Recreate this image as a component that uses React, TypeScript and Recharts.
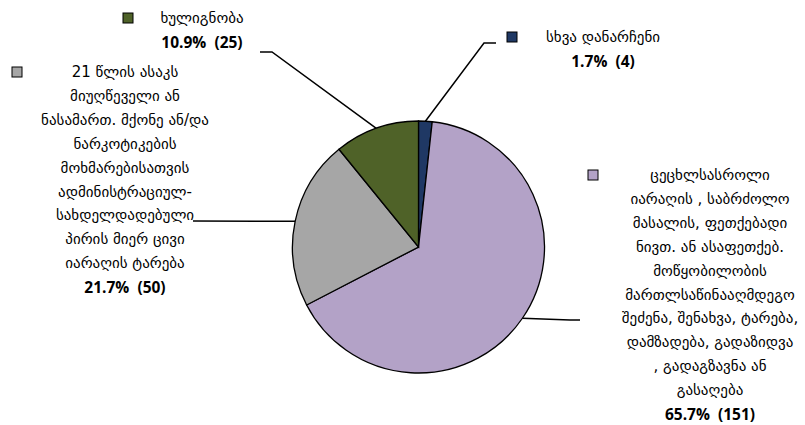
import React from "react";
import { Cell, Pie, PieChart } from "recharts";

// categories in drawing order (clockwise from 12 o'clock)
const categories = [
  "სხვა დანარჩენი",
  "ცეცხლსასროლი\nიარაღის , საბრძოლო\nმასალის, ფეთქებადი\nნივთ. ან ასაფეთქებ.\nმოწყობილობის\nმართლსაწინააღმდეგო\nშეძენა, შენახვა, ტარება,\nდამზადება, გადაზიდვა\n, გადაგზავნა ან\nგასაღება",
  "21 წლის ასაკს\nმიუღწეველი ან\nნასამართ. მქონე ან/და\nნარკოტიკების\nმოხმარებისათვის\nადმინისტრაციულ-\nსახდელდადებული\nპირის მიერ ცივი\nიარაღის ტარება",
  "ხულიგნობა",
];
const counts = [4, 151, 50, 25];
const colors = ["#1F3864", "#B3A2C7", "#A6A6A6", "#4F6228"];

const total = counts.reduce((a, b) => a + b, 0);
const data = categories.map((name, i) => ({ name, value: counts[i] }));

// where each data label sits (text centre x, first line y, legend key x, leader elbow)
const labelLayout = [
  { x: 603, y: 37, keyX: 507, elbow: [484, 43], end: [496, 43] },
  { x: 710, y: 175, keyX: 588, elbow: [570, 320], end: [580, 320] },
  { x: 125, y: 72, keyX: 12, elbow: null, end: [193, 221] },
  { x: 202, y: 18, keyX: 123, elbow: [272, 52], end: [260, 52] },
];

const LINE_H = 23.9;
const RADIAN = Math.PI / 180;

function renderLabel(props: any) {
  const { cx, cy, midAngle, outerRadius, index, value } = props;
  const lay = labelLayout[index];
  const lines = categories[index].split("\n");
  const px = cx + outerRadius * Math.cos(-midAngle * RADIAN);
  const py = cy + outerRadius * Math.sin(-midAngle * RADIAN);
  const pts = [[px, py], ...(lay.elbow ? [lay.elbow] : []), lay.end]
    .map((p) => p.join(","))
    .join(" ");
  const pct = `${((value / total) * 100).toFixed(1)}%\u00a0\u00a0(${value})`;
  return (
    <g key={`lbl-${index}`}>
      <polyline points={pts} fill="none" stroke="#000" strokeWidth={1.5} />
      <rect
        x={lay.keyX}
        y={lay.y - 5}
        width={10}
        height={10}
        fill={colors[index]}
        stroke="#000"
        strokeWidth={1}
      />
      {lines.map((t, k) => (
        <text
          key={k}
          x={lay.x}
          y={lay.y + k * LINE_H}
          textAnchor="middle"
          dominantBaseline="central"
          fontFamily="DejaVu Sans"
          fontSize={15}
          fill="#000"
        >
          {t}
        </text>
      ))}
      <text
        x={lay.x}
        y={lay.y + lines.length * LINE_H}
        textAnchor="middle"
        dominantBaseline="central"
        fontFamily="Open Sans"
        fontWeight="bold"
        fontSize={15.5}
        fill="#000"
      >
        {pct}
      </text>
    </g>
  );
}

export default function App() {
  return (
    <div style={{ width: 805, height: 425, background: "#fff" }}>
      <style>{"body{margin:0}"}</style>
      <PieChart width={805} height={425}>
        <Pie
          data={data}
          dataKey="value"
          nameKey="name"
          cx={413.5}
          cy={242}
          outerRadius={126}
          startAngle={90}
          endAngle={-270}
          stroke="#000"
          strokeWidth={1.3}
          label={renderLabel}
          labelLine={false}
          isAnimationActive={false}
        >
          {data.map((d, i) => (
            <Cell key={d.name} fill={colors[i]} />
          ))}
        </Pie>
      </PieChart>
    </div>
  );
}
